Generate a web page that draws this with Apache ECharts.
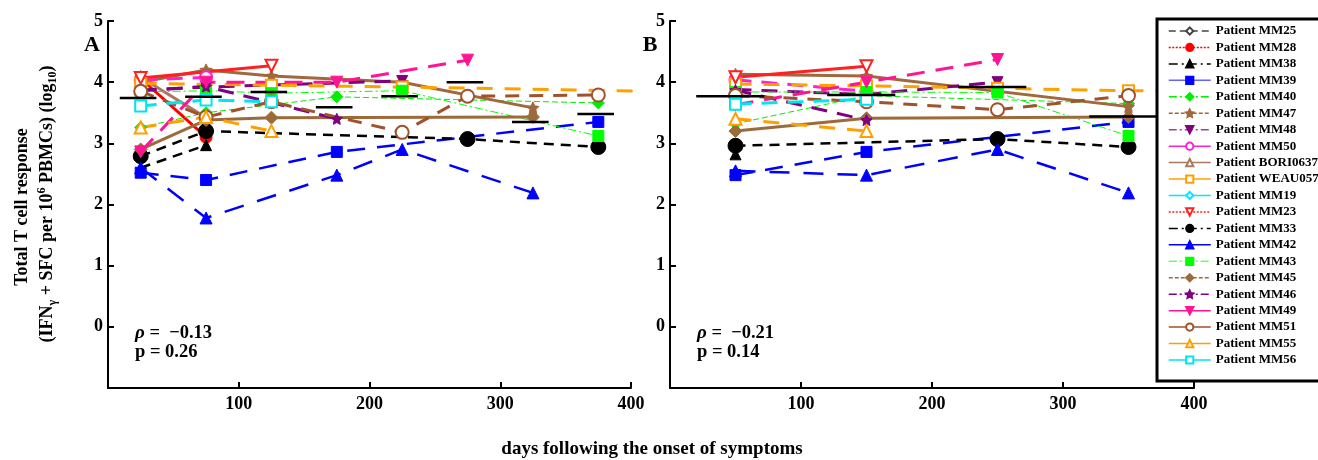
<!DOCTYPE html>
<html><head><meta charset="utf-8">
<script src="https://cdn.jsdelivr.net/npm/echarts@6/dist/echarts.min.js"></script>
<style>html,body{margin:0;padding:0;background:#fff}#c{width:1318px;height:460px}</style>
</head><body><div id="c"></div>
<script>
const n = null;
const daysA = [25, 75, 125, 175, 225, 275, 325, 375];
const daysB = [50, 150, 250, 350];
const xTicks = [0, 100, 200, 300, 400];
const yTicks = [-1, 0, 1, 2, 3, 4, 5];
const patients = ['MM25','MM28','MM38','MM39','MM40','MM47','MM48','MM50','BORI0637','WEAU0575','MM19','MM23','MM33','MM42','MM43','MM45','MM46','MM49','MM51','MM55','MM56'];

// Panel A values (log10), aligned with daysA
const MM25_A = [4.03, n, n, n, n, n, n, n];
const MM28_A = [4.06, 3.10, n, n, n, n, n, n];
const MM38_A = [2.60, 2.97, n, n, n, n, n, n];
const MM39_A = [2.52, 2.40, n, 2.86, n, n, n, 3.35];
const MM40_A = [3.26, 3.50, n, 3.76, n, n, n, 3.66];
const MM47_A = [4.00, 4.20, 4.10, n, 4.00, n, 3.58, n];
const MM48_A = [3.87, 3.92, n, n, 4.02, n, n, n];
const MM50_A = [4.03, 4.08, n, n, n, n, n, n];
const BORI0637_A = [4.08, 3.42, n, n, n, n, n, n];
const WEAU0575_A = [3.98, n, 3.95, n, 3.92, n, n, n];
const MM19_A = [n, n, 3.72, n, n, n, n, n];
const MM23_A = [4.07, n, 4.27, n, n, n, n, n];
const MM33_A = [2.79, 3.20, n, n, n, 3.07, n, 2.94];
const MM42_A = [2.60, 1.78, n, 2.48, 2.90, n, 2.19, n];
const MM43_A = [3.84, 3.86, 3.82, n, 3.86, n, n, 3.12];
const MM45_A = [2.90, 3.38, 3.42, n, n, n, 3.43, n];
const MM46_A = [3.86, 3.93, n, 3.40, n, n, n, n];
const MM49_A = [2.86, 4.00, n, 4.00, n, 4.36, n, n];
const MM51_A = [3.85, 3.43, 3.68, n, 3.18, 3.77, n, 3.79];
const MM55_A = [3.26, 3.43, 3.20, n, n, n, n, n];
const MM56_A = [3.61, 3.71, 3.68, n, n, n, n, n];

// Panel B values, aligned with daysB
const MM25_B = [4.02, n, n, n];
const MM28_B = [4.05, n, n, n];
const MM38_B = [2.82, n, n, n];
const MM39_B = [2.48, 2.86, n, 3.35];
const MM40_B = [3.32, 3.78, n, 3.65];
const MM47_B = [4.13, 4.10, n, 3.60];
const MM48_B = [3.88, 3.80, 4.00, n];
const MM50_B = [4.04, 3.85, n, n];
const BORI0637_B = [4.10, n, n, n];
const WEAU0575_B = [3.97, 3.94, 3.90, 3.86];
const MM19_B = [n, 3.72, n, n];
const MM23_B = [4.08, 4.26, n, n];
const MM33_B = [2.96, n, 3.07, 2.94];
const MM42_B = [2.55, 2.48, 2.90, 2.19];
const MM43_B = [3.84, 3.84, 3.83, 3.12];
const MM45_B = [3.20, 3.41, n, 3.43];
const MM46_B = [3.87, 3.38, n, n];
const MM49_B = [3.63, 4.00, 4.37, n];
const MM51_B = [3.78, 3.68, 3.55, 3.78];
const MM55_B = [3.40, 3.20, n, n];
const MM56_B = [3.64, 3.72, n, n];

// WEAU0575 last observation beyond the axis end
const weauTailDay = 420;
const weauTailA = 3.85;
const weauTailB = 3.85;

// medians per time bin
const medDaysA = [23, 73, 123, 173, 223, 273, 323, 373];
const medValsA = [3.74, 3.76, 3.84, 3.59, 3.77, 4.00, 3.35, 3.48];
const medDaysB = [46, 146, 246, 346];
const medValsB = [3.77, 3.79, 3.92, 3.44];

const rhoA = '−0.13', pA = '0.26';
const rhoB = '−0.21', pB = '0.14';

const valsA = {MM25:MM25_A,MM28:MM28_A,MM38:MM38_A,MM39:MM39_A,MM40:MM40_A,MM47:MM47_A,MM48:MM48_A,MM50:MM50_A,BORI0637:BORI0637_A,WEAU0575:WEAU0575_A,MM19:MM19_A,MM23:MM23_A,MM33:MM33_A,MM42:MM42_A,MM43:MM43_A,MM45:MM45_A,MM46:MM46_A,MM49:MM49_A,MM51:MM51_A,MM55:MM55_A,MM56:MM56_A};
const valsB = {MM25:MM25_B,MM28:MM28_B,MM38:MM38_B,MM39:MM39_B,MM40:MM40_B,MM47:MM47_B,MM48:MM48_B,MM50:MM50_B,BORI0637:BORI0637_B,WEAU0575:WEAU0575_B,MM19:MM19_B,MM23:MM23_B,MM33:MM33_B,MM42:MM42_B,MM43:MM43_B,MM45:MM45_B,MM46:MM46_B,MM49:MM49_B,MM51:MM51_B,MM55:MM55_B,MM56:MM56_B};

const STAR = 'path://M0,-10L2.9,-4L9.5,-3.1L4.7,1.5L5.9,8.1L0,5L-5.9,8.1L-4.7,1.5L-9.5,-3.1L-2.9,-4Z';
const styles = {
  MM25:{c:'#444444', s:'emptyDiamond', z:8, lw:2, d:[8,5], ld:[7,4]},
  MM28:{c:'#ff0000', s:'circle', z:12, lw:3, d:'solid', ld:[2,1.5]},
  MM38:{c:'#000000', s:'triangle', z:11, lw:2.5, d:[10,7], ld:[9,4,2,4]},
  MM39:{c:'#0000ff', s:'rect', z:11, lw:2.5, d:[18,12], ld:'solid', lc:'#6464ff'},
  MM40:{c:'#00ee00', s:'diamond', z:12, lw:1, d:[6,3], ld:[8,3,2,3]},
  MM47:{c:'#a0683c', s:STAR, z:12, lw:3, d:'solid', ld:[4,2]},
  MM48:{c:'#800080', s:'triangle', z:11, r:180, lw:3, d:[16,10], ld:[8,3,2,3], lc:'#a040a0'},
  MM50:{c:'#ff22cc', s:'emptyCircle', z:12, lw:3, d:[16,10], ld:'solid'},
  BORI0637:{c:'#a97a60', s:'emptyTriangle', z:11, lw:3, d:'solid', ld:'solid'},
  WEAU0575:{c:'#ffa000', s:'emptyRect', z:11, lw:3, d:[16,12], ld:'solid'},
  MM19:{c:'#00e8ff', s:'emptyDiamond', z:11, lw:3, d:[14,10], ld:'solid'},
  MM23:{c:'#ff2020', s:'emptyTriangle', z:12, r:180, lw:3, d:'solid', ld:[2,1.5]},
  MM33:{c:'#000000', s:'circle', z:15, lw:2.5, d:[10,7], ld:[9,4,2,4]},
  MM42:{c:'#0000ff', s:'triangle', z:12, lw:2.5, d:[20,14], ld:'solid'},
  MM43:{c:'#00ff00', s:'rect', z:11, lw:1, d:[8,3,2,3], ld:[8,3,2,3], lc:'#66ff66'},
  MM45:{c:'#9c6b3a', s:'diamond', z:13, lw:3, d:'solid', ld:[4,2]},
  MM46:{c:'#800080', s:STAR, z:11, lw:3, d:[16,10], ld:[8,3,2,3]},
  MM49:{c:'#ff1493', s:'triangle', z:12, r:180, lw:3, d:[18,11], ld:'solid'},
  MM51:{c:'#a0522d', s:'emptyCircle', z:13, lw:3, d:[14,10], ld:'solid'},
  MM55:{c:'#ffa000', s:'emptyTriangle', z:12, lw:3, d:[16,12], ld:'solid'},
  MM56:{c:'#00e5ee', s:'emptyRect', z:11, lw:3, d:[16,10], ld:'solid'}
};

function pairs(days, vals) {
  const out = [];
  for (let i = 0; i < days.length; i++) if (vals[i] != null) out.push([days[i], vals[i]]);
  return out;
}

const series = [];
function addPatient(p, idx, days, vals, tail) {
  const st = styles[p];
  const data = pairs(days, vals);
  if (tail != null) data.push({value: [weauTailDay, tail], symbol: 'none'});
  series.push({
    type: 'line', name: 'Patient ' + p, xAxisIndex: idx, yAxisIndex: idx,
    data: data, connectNulls: true, clip: false, animation: false, silent: true,
    symbol: st.s, symbolSize: st.z, symbolRotate: st.r || 0, showAllSymbol: true,
    lineStyle: {color: st.c, width: st.lw, type: st.d},
    itemStyle: {color: st.c, borderColor: st.c, borderWidth: 1},
    emphasis: {disabled: true}
  });
}
patients.forEach(p => addPatient(p, 0, daysA, valsA[p], p === 'WEAU0575' ? weauTailA : null));
patients.forEach(p => addPatient(p, 1, daysB, valsB[p], p === 'WEAU0575' ? weauTailB : null));

function medianSeries(idx, days, vals, hw) {
  return {
    type: 'custom', xAxisIndex: idx, yAxisIndex: idx, z: 20, silent: true, animation: false,
    data: days.map((d, i) => [d, vals[i]]),
    renderItem: function (params, api) {
      const a = api.coord([api.value(0) - hw, api.value(1)]);
      const b = api.coord([api.value(0) + hw, api.value(1)]);
      return {type: 'line', shape: {x1: a[0], y1: a[1], x2: b[0], y2: b[1]}, style: {stroke: '#000', lineWidth: 2.5}};
    }
  };
}
series.push(medianSeries(0, medDaysA, medValsA, 14));
series.push(medianSeries(1, medDaysB, medValsB, 26));

const FONT = '"Liberation Serif", "Times New Roman", serif';
function xAxis(idx) {
  return {
    type: 'value', gridIndex: idx, min: xTicks[0], max: xTicks[xTicks.length - 1], interval: 100,
    axisLine: {show: true, onZero: false, lineStyle: {color: '#000', width: 2}},
    axisTick: {show: true, inside: true, length: 6, lineStyle: {color: '#000', width: 2}},
    axisLabel: {color: '#000', fontFamily: FONT, fontWeight: 'bold', fontSize: 18, margin: 7,
      formatter: v => (v === 0 ? '' : String(v))},
    splitLine: {show: false}
  };
}
function yAxis(idx) {
  return {
    type: 'value', gridIndex: idx, min: yTicks[0], max: yTicks[yTicks.length - 1], interval: 1,
    axisLine: {show: true, onZero: false, lineStyle: {color: '#000', width: 2}},
    axisTick: {show: true, inside: true, length: 6, lineStyle: {color: '#000', width: 2}},
    axisLabel: {color: '#000', fontFamily: FONT, fontWeight: 'bold', fontSize: 18, margin: 5,
      formatter: v => (v === -1 ? '' : String(v))},
    splitLine: {show: false}
  };
}

const legendData = patients.map(p => {
  const st = styles[p];
  return {name: 'Patient ' + p, lineStyle: {width: 1.5, type: st.ld, color: st.lc || st.c}};
});

function txt(x, y, text, size, extra) {
  return {type: 'text', x: x, y: y, z: 30,
    style: Object.assign({text: text, fontFamily: FONT, fontWeight: 'bold', fontSize: size, fill: '#000'}, extra || {})};
}
const rich = {
  i: {fontFamily: FONT, fontWeight: 'bold', fontStyle: 'italic', fontSize: 19, fill: '#000'},
  sub: {fontFamily: FONT, fontWeight: 'bold', fontSize: 12, verticalAlign: 'bottom', fill: '#000'},
  sup: {fontFamily: FONT, fontWeight: 'bold', fontSize: 12, verticalAlign: 'top', fill: '#000'}
};

const chart = echarts.init(document.getElementById('c'), null, {renderer: 'canvas'});
chart.setOption({
  animation: false,
  backgroundColor: '#fff',
  grid: [
    {left: 108, top: 21, width: 523, height: 367},
    {left: 670, top: 21, width: 524, height: 367}
  ],
  xAxis: [xAxis(0), xAxis(1)],
  yAxis: [yAxis(0), yAxis(1)],
  legend: {
    show: true, orient: 'vertical', left: 1163, top: 18, z: 40, selectedMode: false,
    itemWidth: 42, itemHeight: 9, itemGap: 0.45,
    textStyle: {fontFamily: FONT, fontWeight: 'bold', fontSize: 13, color: '#000', lineHeight: 16},
    data: legendData
  },
  graphic: [
    {type: 'rect', z: 35, shape: {x: 1157, y: 19, width: 170, height: 362}, style: {fill: '#fff', stroke: '#000', lineWidth: 3}},
    txt(1222, 371, 'n = 21', 22, {align: 'center', verticalAlign: 'middle'}),
    txt(92, 45, 'A', 22, {align: 'center', verticalAlign: 'middle'}),
    txt(650, 45, 'B', 22, {align: 'center', verticalAlign: 'middle'}),
    txt(135, 333, '{i|ρ} =  ' + rhoA, 18.5, {verticalAlign: 'middle', rich: rich}),
    txt(135, 352, 'p = ' + pA, 18.5, {verticalAlign: 'middle'}),
    txt(697, 333, '{i|ρ} =  ' + rhoB, 18.5, {verticalAlign: 'middle', rich: rich}),
    txt(697, 352, 'p = ' + pB, 18.5, {verticalAlign: 'middle'}),
    txt(652, 449, 'days following the onset of symptoms', 19, {align: 'center', verticalAlign: 'middle'}),
    {type: 'text', x: 22, y: 207, rotation: Math.PI / 2, z: 30,
      style: {text: 'Total T cell response', fontFamily: FONT, fontWeight: 'bold', fontSize: 18, fill: '#000', align: 'center', verticalAlign: 'middle'}},
    {type: 'text', x: 47, y: 204, rotation: Math.PI / 2, z: 30,
      style: {text: '(IFN{sub|γ} + SFC per 10{sup|6} PBMCs) (log{sub|10})', fontFamily: FONT, fontWeight: 'bold', fontSize: 18, lineHeight: 23, fill: '#000', align: 'center', verticalAlign: 'middle', rich: rich}}
  ],
  series: series
});
</script></body></html>
